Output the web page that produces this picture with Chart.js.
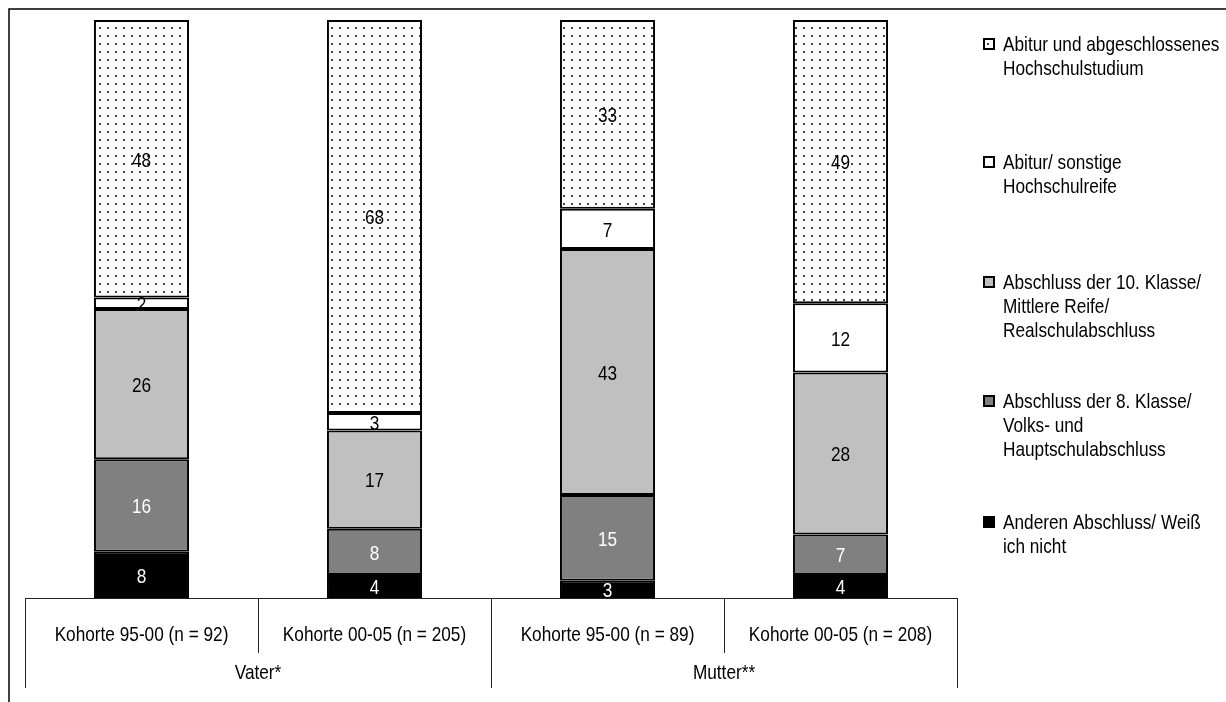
<!DOCTYPE html>
<html>
<head>
<meta charset="utf-8">
<script src="https://cdn.jsdelivr.net/npm/chart.js@4/dist/chart.umd.min.js"></script>
<style>
  html, body { margin: 0; padding: 0; background: #fff; }
  #wrap { position: relative; width: 1226px; height: 702px; }
</style>
</head>
<body>
<div id="wrap"><canvas id="c" width="1226" height="702"></canvas></div>
<script>
const categories = [
    "Kohorte 95-00 (n = 92)",
    "Kohorte 00-05 (n = 205)",
    "Kohorte 95-00 (n = 89)",
    "Kohorte 00-05 (n = 208)",
];
const groups = ["Vater*", "Mutter**"];

// bottom to top
const seriesNames = [
    ["Anderen Abschluss/ Weiß", "ich nicht"],
    ["Abschluss der 8. Klasse/", "Volks- und", "Hauptschulabschluss"],
    ["Abschluss der 10. Klasse/", "Mittlere Reife/", "Realschulabschluss"],
    ["Abitur/ sonstige", "Hochschulreife"],
    ["Abitur und abgeschlossenes", "Hochschulstudium"],
];
const anderen = [8, 4, 3, 4];
const klasse8 = [16, 8, 15, 7];
const klasse10 = [26, 17, 43, 28];
const abiturSonst = [2, 3, 7, 12];
const abiturStudium = [48, 68, 33, 49];

const series = [anderen, klasse8, klasse10, abiturSonst, abiturStudium];

// Arial Narrow look: Liberation Sans squeezed horizontally
const FONT = '21px "Liberation Sans", Arial, sans-serif';
const SQUEEZE = 0.82;

function narrowText(ctx, text, x, y, align) {
    ctx.save();
    ctx.translate(x, y);
    ctx.scale(SQUEEZE, 1);
    ctx.textAlign = align;
    ctx.fillText(text, 0, 0);
    ctx.restore();
}

function dotPattern() {
    const p = document.createElement("canvas");
    p.width = 8;
    p.height = 8;
    const g = p.getContext("2d");
    g.fillStyle = "#fff";
    g.fillRect(0, 0, 8, 8);
    g.fillStyle = "#444";
    g.fillRect(3, 3, 2, 2);
    return g.createPattern(p, "repeat");
}
const ctx0 = document.getElementById("c").getContext("2d");
const fills = ["#000000", "#808080", "#c0c0c0", "#ffffff", dotPattern()];
const labelColors = ["#fff", "#fff", "#000", "#000", "#000"];

// stacked to 100 per bar (bar 3 sums to 101)
const totals = categories.map((_, i) => series.reduce((s, d) => s + d[i], 0));

const datasets = series.map((d, k) => ({
    label: seriesNames[k].join(" "),
    raw: d,
    data: d.map((v, i) => (v / totals[i]) * 100),
    backgroundColor: fills[k],
    borderColor: "#000",
    borderWidth: 2,
    borderSkipped: false,
    barPercentage: 0.408,
    categoryPercentage: 1,
}));

const valueLabels = {
    id: "valueLabels",
    afterDatasetsDraw(chart) {
        const { ctx } = chart;
        ctx.save();
        ctx.font = FONT;
        ctx.textBaseline = "middle";
        chart.data.datasets.forEach((ds, k) => {
            chart.getDatasetMeta(k).data.forEach((bar, i) => {
                const { x, y, base } = bar.getProps(["x", "y", "base"], true);
                ctx.fillStyle = labelColors[k];
                narrowText(ctx, String(ds.raw[i]), x, (y + base) / 2 + 2, "center");
            });
        });
        ctx.restore();
    },
};

const frameAndAxis = {
    id: "frameAndAxis",
    afterDraw(chart) {
        const { ctx, chartArea } = chart;
        const xs = chart.scales.x;
        const bottom = chartArea.bottom;
        const half = (xs.getPixelForValue(1) - xs.getPixelForValue(0)) / 2;
        ctx.save();
        // outer frame
        ctx.strokeStyle = "#000";
        ctx.lineWidth = 1.5;
        ctx.beginPath();
        ctx.moveTo(9, 710);
        ctx.lineTo(9, 9);
        ctx.lineTo(1230, 9);
        ctx.stroke();

        // category axis
        ctx.lineWidth = 1;
        ctx.strokeStyle = "#222";
        const left = xs.getPixelForValue(0) - half;
        const right = xs.getPixelForValue(categories.length - 1) + half;
        ctx.beginPath();
        ctx.moveTo(left, bottom + 0.5);
        ctx.lineTo(right, bottom + 0.5);
        for (let i = 0; i <= categories.length; i++) {
            const px = Math.round(xs.getPixelForValue(0) - half + i * 2 * half) + 0.5;
            const len = i % 2 === 0 ? 90 : 55;
            ctx.moveTo(px, bottom);
            ctx.lineTo(px, bottom + len);
        }
        ctx.stroke();

        ctx.fillStyle = "#000";
        ctx.font = FONT;
        ctx.textBaseline = "middle";
        categories.forEach((c, i) => {
            narrowText(ctx, c, xs.getPixelForValue(i), bottom + 37, "center");
        });
        groups.forEach((g, j) => {
            const cx = (xs.getPixelForValue(j * 2) + xs.getPixelForValue(j * 2 + 1)) / 2;
            narrowText(ctx, g, cx, bottom + 75, "center");
        });

        // legend, top to bottom
        const itemTops = [45, 163, 283, 402, 523];
        for (let n = 0; n < series.length; n++) {
            const k = series.length - 1 - n;
            const y0 = itemTops[n];
            ctx.fillStyle = fills[k];
            ctx.fillRect(984, y0 - 6, 10, 10);
            ctx.strokeStyle = "#000";
            ctx.lineWidth = 2;
            ctx.strokeRect(984, y0 - 6, 10, 10);
            ctx.fillStyle = "#000";
            seriesNames[k].forEach((line, li) => {
                narrowText(ctx, line, 1003, y0 + li * 24, "left");
            });
        }
        ctx.restore();
    },
};

new Chart(ctx0, {
    type: "bar",
    data: { labels: categories, datasets },
    options: {
        responsive: false,
        animation: false,
        layout: { padding: { left: 25, right: 269, top: 20, bottom: 104 } },
        plugins: {
            legend: { display: false },
            tooltip: { enabled: false },
        },
        scales: {
            x: { stacked: true, display: false },
            y: { stacked: true, display: false, min: 0, max: 100 },
        },
    },
    plugins: [valueLabels, frameAndAxis],
});
</script>
</body>
</html>
